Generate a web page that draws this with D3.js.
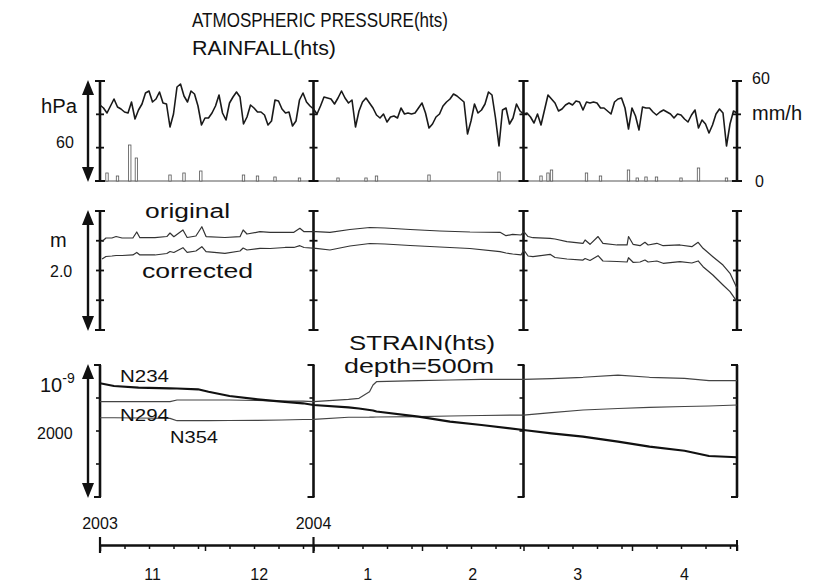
<!DOCTYPE html>
<html>
<head>
<meta charset="utf-8">
<script src="https://cdn.jsdelivr.net/npm/d3@7"></script>
<style>
  body { margin: 0; background: #fff; }
  svg text { font-family: "Liberation Sans", Arial, Helvetica, sans-serif; fill: #111; }
</style>
</head>
<body>
<svg id="chart" width="829" height="584"></svg>
<script>
// ---- record: 2003-11-01 .. 2004-05-01, day offsets from the start ----
const startUTC = Date.UTC(2003, 10, 1);
const recordDays = 182;

// atmospheric pressure, daily (hPa)
const pressure = [
  1015.6, 1013.8, 1010.8, 1015.0, 1019.2, 1014.4, 1013.2, 1011.4, 1010.8, 1017.4,
  1007.2, 1012.6, 1016.2, 1022.8, 1024.0, 1017.4, 1019.2, 1023.4, 1016.8, 1016.2,
  1002.4, 1010.2, 1026.4, 1028.2, 1021.0, 1017.4, 1024.0, 1022.2, 1015.0, 1003.6,
  1007.8, 1007.8, 1010.8, 1015.0, 1021.6, 1010.8, 1006.6, 1016.8, 1020.4, 1023.4,
  1020.4, 1004.2, 1008.4, 1015.6, 1013.8, 1011.4, 1011.4, 1009.6, 1003.6, 1006.0,
  1018.6, 1018.0, 1013.2, 1010.8, 1011.4, 1003.0, 1006.0, 1018.6, 1022.8, 1017.4,
  1015.0, 1013.2, 1010.2, 1015.0, 1020.4, 1019.8, 1019.2, 1016.2, 1019.8, 1024.0,
  1019.8, 1016.8, 1018.6, 1002.4, 1012.0, 1017.4, 1019.8, 1016.8, 1013.8, 1009.6,
  1007.8, 1010.2, 1005.4, 1008.4, 1009.0, 1007.8, 1013.8, 1010.2, 1010.8, 1010.2,
  1010.8, 1013.8, 1016.8, 1010.8, 1001.8, 1004.2, 1008.4, 1010.2, 1015.0, 1017.4,
  1019.2, 1022.2, 1021.0, 1019.2, 1017.4, 998.2, 1006.0, 1016.2, 1010.8, 1012.6,
  1016.2, 1023.4, 1021.6, 1007.8, 991.0, 1012.6, 1013.8, 1004.2, 1007.8, 1016.2,
  1012.0, 1010.2, 1010.8, 1008.4, 1004.8, 1010.2, 1003.6, 1012.6, 1021.6, 1019.2,
  1016.8, 1012.0, 1013.2, 1015.6, 1016.8, 1015.6, 1018.0, 1017.4, 1012.6, 1017.4,
  1016.8, 1017.4, 1016.8, 1013.8, 1013.8, 1012.0, 1010.2, 1017.4, 1019.2, 1019.8,
  1013.8, 1001.2, 1013.8, 1009.0, 1000.6, 1014.4, 1013.8, 1013.8, 1011.4, 1009.6,
  1011.4, 1012.6, 1011.4, 1010.2, 1007.8, 1010.2, 1009.6, 1007.2, 1005.4, 1009.6,
  1012.6, 1001.8, 1006.6, 1004.2, 998.8, 1003.6, 1010.2, 1013.2, 1010.8, 991.0,
  1004.2, 1012.0, 1010.8
];

// rainfall events (mm/h)
const rainDays = [2, 5, 8.5, 10.4, 20, 24, 28.8, 41, 45, 50, 57, 68, 76, 79, 94, 114,
  126, 128, 129, 139, 143, 151, 153.5, 156, 159, 166, 171, 179];
const rainfall = [4.8, 3.0, 21.6, 13.8, 3.6, 4.8, 6.0, 3.6, 3.0, 2.4, 1.8, 1.8, 1.8, 3.0, 3.6, 5.4,
  3.0, 4.8, 6.6, 4.8, 3.0, 6.6, 1.8, 2.4, 2.4, 1.8, 7.8, 1.8];

// groundwater level (m)
const levelDays = [0.6, 1.7, 3.4, 4.6, 6.3, 9.4, 10.5, 11.4, 15.7, 19.1,
  20.0, 21.1, 23.7, 24.9, 27.4, 29.1, 30.3, 35.7, 40.0, 40.9,
  42.0, 45.7, 48.6, 52.9, 55.4, 57.1, 58.3, 61.7, 65.7, 71.4,
  77.1, 81.4, 88.6, 97.1, 105.7, 114.3, 116.0, 117.9, 120.3, 121.1,
  122.3, 123.7, 128.6, 130.0, 133.4, 138.0, 138.6, 140.0, 142.3, 143.7,
  147.7, 150.6, 151.0, 152.3, 154.3, 155.7, 156.6, 159.1, 160.9, 165.7,
  169.1, 170.9, 172.3, 175.1, 178.0, 180.0, 182.0];
const levelOriginal = [1.487, 1.546, 1.546, 1.571, 1.546, 1.546, 1.647, 1.551, 1.551, 1.571,
  1.630, 1.568, 1.681, 1.555, 1.580, 1.736, 1.571, 1.555, 1.568, 1.681,
  1.613, 1.652, 1.642, 1.642, 1.642, 1.709, 1.652, 1.652, 1.642, 1.689,
  1.723, 1.714, 1.689, 1.664, 1.647, 1.642, 1.585, 1.608, 1.597, 1.652,
  1.571, 1.551, 1.541, 1.529, 1.484, 1.457, 1.513, 1.440, 1.571, 1.457,
  1.429, 1.429, 1.571, 1.440, 1.417, 1.474, 1.429, 1.457, 1.417, 1.429,
  1.400, 1.474, 1.373, 1.232, 1.092, 0.953, 0.701];
const levelCorrected = [1.193, 1.235, 1.244, 1.252, 1.252, 1.261, 1.303, 1.261, 1.261, 1.286,
  1.319, 1.303, 1.383, 1.306, 1.328, 1.400, 1.316, 1.289, 1.328, 1.378,
  1.345, 1.373, 1.370, 1.387, 1.387, 1.417, 1.387, 1.373, 1.345, 1.412,
  1.454, 1.445, 1.420, 1.395, 1.370, 1.316, 1.294, 1.277, 1.261, 1.345,
  1.244, 1.232, 1.272, 1.218, 1.193, 1.176, 1.202, 1.168, 1.249, 1.160,
  1.151, 1.143, 1.215, 1.138, 1.143, 1.176, 1.143, 1.160, 1.121, 1.148,
  1.126, 1.160, 1.064, 0.924, 0.756, 0.644, 0.476];

// strain at depth 500 m (x10^-9)
const strainDays = [0, 4, 11, 20, 22, 28, 31, 37, 45, 52, 58, 61, 71, 74, 77, 78, 79,
  91, 100, 109, 121, 129, 138, 148, 157, 167, 174, 182];
const strainN234 = [1723, 1682, 1656, 1647, 1644, 1632, 1595, 1530, 1480, 1444, 1420, 1394,
  1359, 1341, 1318, 1311, 1295, 1217, 1141, 1091, 1015, 965, 914, 838, 762, 701, 621, 602];
const strainN294 = [1444, 1444, 1444, 1444, 1470, 1470, 1470, 1470, 1462, 1454, 1454, 1444,
  1480, 1495, 1595, 1697, 1747, 1762, 1773, 1783, 1783, 1795, 1814, 1848, 1814, 1798, 1762, 1762];
const strainN354 = [1201, 1201, 1197, 1192, 1156, 1156, 1156, 1159, 1162, 1167, 1174, 1177,
  1208, 1208, 1209, 1211, 1212, 1217, 1227, 1235, 1242, 1277, 1318, 1341, 1359, 1371, 1379, 1394];

// frame markers and axis labels
const frameDays = [0, 61, 121, 182];
const yearLabels = ["2003", "2004"];
const yearDays = [0, 61];
const monthLabels = ["11", "12", "1", "2", "3", "4"];

// ---- scales ----
const dayToDate = d => new Date(startUTC + d * 864e5);
const x = d3.scaleUtc().domain([dayToDate(0), dayToDate(recordDays)]).range([100, 737]);
const yP = d3.scaleLinear().domain([970, 1030]).range([181, 81]);
const yR = d3.scaleLinear().domain([0, 60]).range([181, 81]);
const yL = d3.scaleLinear().domain([0, 2]).range([330, 211]);
const yS = d3.scaleLinear().domain([0, 2000]).range([497, 365]);

const svg = d3.select("#chart");
const ink = "#111";

function label(txt, px, py, size, opts = {}) {
  const t = svg.append("text")
    .attr("x", px).attr("y", py)
    .attr("font-size", size)
    .attr("text-anchor", opts.anchor || "start")
    .text(txt);
  if (opts.len) t.attr("textLength", opts.len).attr("lengthAdjust", "spacingAndGlyphs");
  return t;
}

// vertical double arrow showing the span of a panel
function spanArrow(scale, ax) {
  const [lo, hi] = scale.range();   // lo = bottom pixel, hi = top pixel
  const g = svg.append("g").attr("fill", ink).attr("stroke", "none");
  g.append("line").attr("x1", ax).attr("x2", ax).attr("y1", hi + 8).attr("y2", lo - 8)
    .attr("stroke", ink).attr("stroke-width", 2.4);
  g.append("path").attr("d", `M${ax},${hi - 1} L${ax - 6},${hi + 14} L${ax + 6},${hi + 14} Z`);
  g.append("path").attr("d", `M${ax},${lo + 1} L${ax - 6},${lo - 14} L${ax + 6},${lo - 14} Z`);
}

// vertical frame bars at the marker dates, with tick marks
function frameBars(scale, tickVals, kind) {
  const [lo, hi] = scale.range();
  const g = svg.append("g").attr("stroke", ink).attr("fill", "none");
  frameDays.forEach(d => {
    const fx = x(dayToDate(d));
    g.append("line").attr("x1", fx).attr("x2", fx).attr("y1", hi).attr("y2", lo).attr("stroke-width", 2.6);
    if (kind === "bracket") {
      [hi, lo].forEach(yy => g.append("line").attr("x1", fx - 6).attr("x2", fx + 1).attr("y1", yy).attr("y2", yy).attr("stroke-width", 2));
      tickVals.forEach(v => g.append("line").attr("x1", fx - 4).attr("x2", fx).attr("y1", scale(v)).attr("y2", scale(v)).attr("stroke-width", 1.6));
    } else {
      [hi, lo].forEach(yy => g.append("line").attr("x1", fx - 5).attr("x2", fx + 5).attr("y1", yy).attr("y2", yy).attr("stroke-width", 2));
      tickVals.forEach(v => g.append("line").attr("x1", fx - 4).attr("x2", fx + 4).attr("y1", scale(v)).attr("y2", scale(v)).attr("stroke-width", 1.8));
    }
  });
}

// ---- panel 1: pressure + rainfall ----
svg.append("line").attr("x1", x(dayToDate(0))).attr("x2", x(dayToDate(recordDays)))
  .attr("y1", yR(0)).attr("y2", yR(0)).attr("stroke", "#aaa").attr("stroke-width", 2);
svg.append("g").selectAll("rect").data(rainDays).join("rect")
  .attr("x", (d) => x(dayToDate(d)) - 1.2)
  .attr("width", 2.4)
  .attr("y", (d, i) => yR(rainfall[i]))
  .attr("height", (d, i) => yR(0) - yR(rainfall[i]))
  .attr("fill", "#fff").attr("stroke", "#555").attr("stroke-width", 0.8);
frameBars(yR, [20, 40], "beam");
svg.append("path").datum(pressure)
  .attr("fill", "none").attr("stroke", "#1a1a1a").attr("stroke-width", 1.6).attr("stroke-linejoin", "round")
  .attr("d", d3.line().x((v, i) => x(dayToDate(i))).y(v => yP(v)));
spanArrow(yR, 88);

// ---- panel 2: groundwater level ----
frameBars(yL, [0.5, 1.0, 1.5], "beam");
[levelOriginal, levelCorrected].forEach(series => {
  svg.append("path").datum(series)
    .attr("fill", "none").attr("stroke", "#333").attr("stroke-width", 1.2).attr("stroke-linejoin", "round")
    .attr("d", d3.line().x((v, i) => x(dayToDate(levelDays[i]))).y(v => yL(v)));
});
spanArrow(yL, 88);

// ---- panel 3: strain ----
frameBars(yS, [500, 1000, 1500], "bracket");
[[strainN354, 1.2, "#444"], [strainN294, 1.2, "#444"], [strainN234, 2.2, "#111"]].forEach(([series, w, c]) => {
  svg.append("path").datum(series)
    .attr("fill", "none").attr("stroke", c).attr("stroke-width", w).attr("stroke-linejoin", "round")
    .attr("d", d3.line().x((v, i) => x(dayToDate(strainDays[i]))).y(v => yS(v)));
});
spanArrow(yS, 88);

// ---- time axis ----
const axisY = 545;
const months = d3.utcMonth.range(dayToDate(0), dayToDate(recordDays + 1));
const weekTicks = d3.utcDay.range(dayToDate(0), dayToDate(recordDays))
  .filter(d => [8, 15, 22, 29].includes(d.getUTCDate()));
const axG = svg.append("g").attr("transform", `translate(0,${axisY})`);
const mkAxis = (vals, size) => d3.axisBottom(x).tickValues(vals).tickSizeInner(size).tickSizeOuter(0).tickFormat("");
axG.append("g").call(mkAxis(weekTicks, 4));
axG.append("g").call(mkAxis(months, 6));
axG.selectAll(".domain").attr("stroke-width", 2.2).attr("stroke", ink);
axG.selectAll(".tick line").attr("stroke", ink).attr("stroke-width", 1.5);
// year marks cross the axis line
yearDays.forEach(d => {
  const fx = x(dayToDate(d));
  axG.append("line").attr("x1", fx).attr("x2", fx).attr("y1", -8).attr("y2", 8)
    .attr("stroke", ink).attr("stroke-width", 2.2);
});
axG.append("line").attr("x1", x(dayToDate(recordDays))).attr("x2", x(dayToDate(recordDays)))
  .attr("y1", -5).attr("y2", 6).attr("stroke", ink).attr("stroke-width", 2);

yearLabels.forEach((t, i) => label(t, x(dayToDate(yearDays[i])), 529, 16, { anchor: "middle" }));
monthLabels.forEach((t, i) => {
  const mid = new Date((months[i].getTime() + months[i + 1].getTime()) / 2);
  label(t, x(mid), 580, 16, { anchor: "middle" });
});

// ---- titles and unit labels ----
label("ATMOSPHERIC PRESSURE(hts)", 192, 27, 21, { len: 256 });
label("RAINFALL(hts)", 192, 55, 21, { len: 144 });
label("hPa", 41, 113, 20, { len: 36 });
label("60", 56, 148, 16);
label("60", 752, 84, 16);
label("mm/h", 752, 120, 20, { len: 50 });
label("0", 755, 187, 16);

label("m", 50, 247, 20);
label("2.0", 50, 277, 16);
label("original", 145, 218, 20, { len: 85 });
label("corrected", 142, 278, 20, { len: 111 });

const sci = label("10", 40, 392, 20);
sci.append("tspan").attr("dy", -9).attr("font-size", 14).text("-9");
label("2000", 37, 439, 16);
label("STRAIN(hts)", 349, 350, 20, { len: 146 });
label("depth=500m", 344, 373, 20, { len: 150 });
label("N234", 120, 382, 17, { len: 49 });
label("N294", 120, 421, 17, { len: 49 });
label("N354", 170, 443, 17, { len: 48 });
</script>
</body>
</html>
